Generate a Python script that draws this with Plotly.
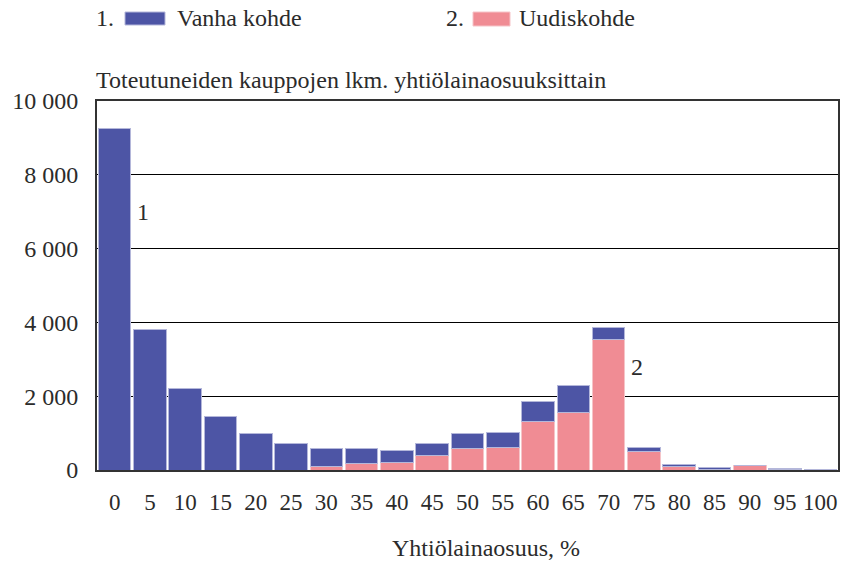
import plotly.graph_objects as go

categories = ["0", "5", "10", "15", "20", "25", "30", "35", "40", "45", "50",
              "55", "60", "65", "70", "75", "80", "85", "90", "95", "100"]
uudiskohde = [0, 0, 0, 0, 0, 0, 90, 180, 190, 380, 590,
              615, 1310, 1570, 3550, 500, 100, 20, 130, 10, 10]
vanha_kohde = [9250, 3800, 2200, 1450, 1000, 730, 500, 410, 345, 340, 405,
               405, 560, 725, 317, 120, 45, 50, 0, 20, 10]
y_ticks = [0, 2000, 4000, 6000, 8000, 10000]
y_ticktext = ["0", "2 000", "4 000", "6 000", "8 000", "10 000"]

BLUE = "#4D55A5"
PINK = "#F08C94"
FONT = "Liberation Serif, Times New Roman, serif"
TXT = "#2b2b2b"

W, H = 843, 562
# plot box in page pixels
PL, PR, PT, PB = 97, 838, 101, 470
L, R, T, B = PL, W - PR, PT, H - PB
pw, ph = PR - PL, PB - PT

def px(x):
    return (x - PL) / pw

def py(y):
    return (PB - y) / ph

fig = go.Figure()
fig.add_trace(go.Bar(x=categories, y=uudiskohde, name="Uudiskohde",
                     marker=dict(color=PINK, line=dict(color="#F6C4C8", width=1)),
                     showlegend=False))
fig.add_trace(go.Bar(x=categories, y=vanha_kohde, name="Vanha kohde",
                     marker=dict(color=BLUE, line=dict(color="#B4B7DA", width=1)),
                     showlegend=False))

fig.update_layout(
    width=W, height=H, margin=dict(l=L, r=R, t=T, b=B),
    barmode="stack", bargap=0.08,
    paper_bgcolor="white", plot_bgcolor="white",
    font=dict(family=FONT, size=24, color=TXT),
    xaxis=dict(type="category", range=[-0.5, len(categories) - 0.5],
               showgrid=False, ticks="", showline=True, automargin=False,
               linecolor="#333", linewidth=2, mirror=True,
               tickfont=dict(size=23), ticklabelstandoff=10),
    yaxis=dict(range=[0, 10000], tickvals=y_ticks, ticktext=y_ticktext,
               showgrid=True, gridcolor="#000", gridwidth=1, automargin=False,
               showline=True, linecolor="#333", linewidth=2, mirror=True,
               ticks="", ticklabelstandoff=12, tickfont=dict(size=24),
               zeroline=False),
)

i0 = categories.index("0")
i70 = categories.index("70")
annotations = [
    dict(text="Toteutuneiden kauppojen lkm. yhtiölainaosuuksittain",
         x=px(94), y=py(80), xref="paper", yref="paper",
         xanchor="left", yanchor="middle", showarrow=False),
    dict(text="Yhtiölainaosuus, %", x=px(486), y=py(548), xref="paper", yref="paper",
         xanchor="center", yanchor="middle", showarrow=False),
    dict(text="1.", x=px(94), y=py(18), xref="paper", yref="paper",
         xanchor="left", yanchor="middle", showarrow=False),
    dict(text="Vanha kohde", x=px(175), y=py(18), xref="paper", yref="paper",
         xanchor="left", yanchor="middle", showarrow=False),
    dict(text="2.", x=px(444), y=py(18), xref="paper", yref="paper",
         xanchor="left", yanchor="middle", showarrow=False),
    dict(text="Uudiskohde", x=px(517), y=py(18), xref="paper", yref="paper",
         xanchor="left", yanchor="middle", showarrow=False),
    dict(text="1", x=i0, y=7000, xref="x", yref="y", xshift=28,
         showarrow=False),
    dict(text="2", x=i70, y=2800, xref="x", yref="y", xshift=28,
         showarrow=False),
]
fig.update_layout(annotations=annotations)

fig.add_shape(type="rect", xref="paper", yref="paper",
              x0=px(125), x1=px(165), y0=py(25), y1=py(12),
              fillcolor=BLUE, line=dict(color="#B4B7DA", width=1))
fig.add_shape(type="rect", xref="paper", yref="paper",
              x0=px(473), x1=px(510), y0=py(26), y1=py(12),
              fillcolor=PINK, line=dict(color="#F6C4C8", width=1))

fig.write_html("out.html",
               config={"displayModeBar": False},
               post_script="document.body.style.margin='0';"
                           "document.body.style.overflow='hidden';")
